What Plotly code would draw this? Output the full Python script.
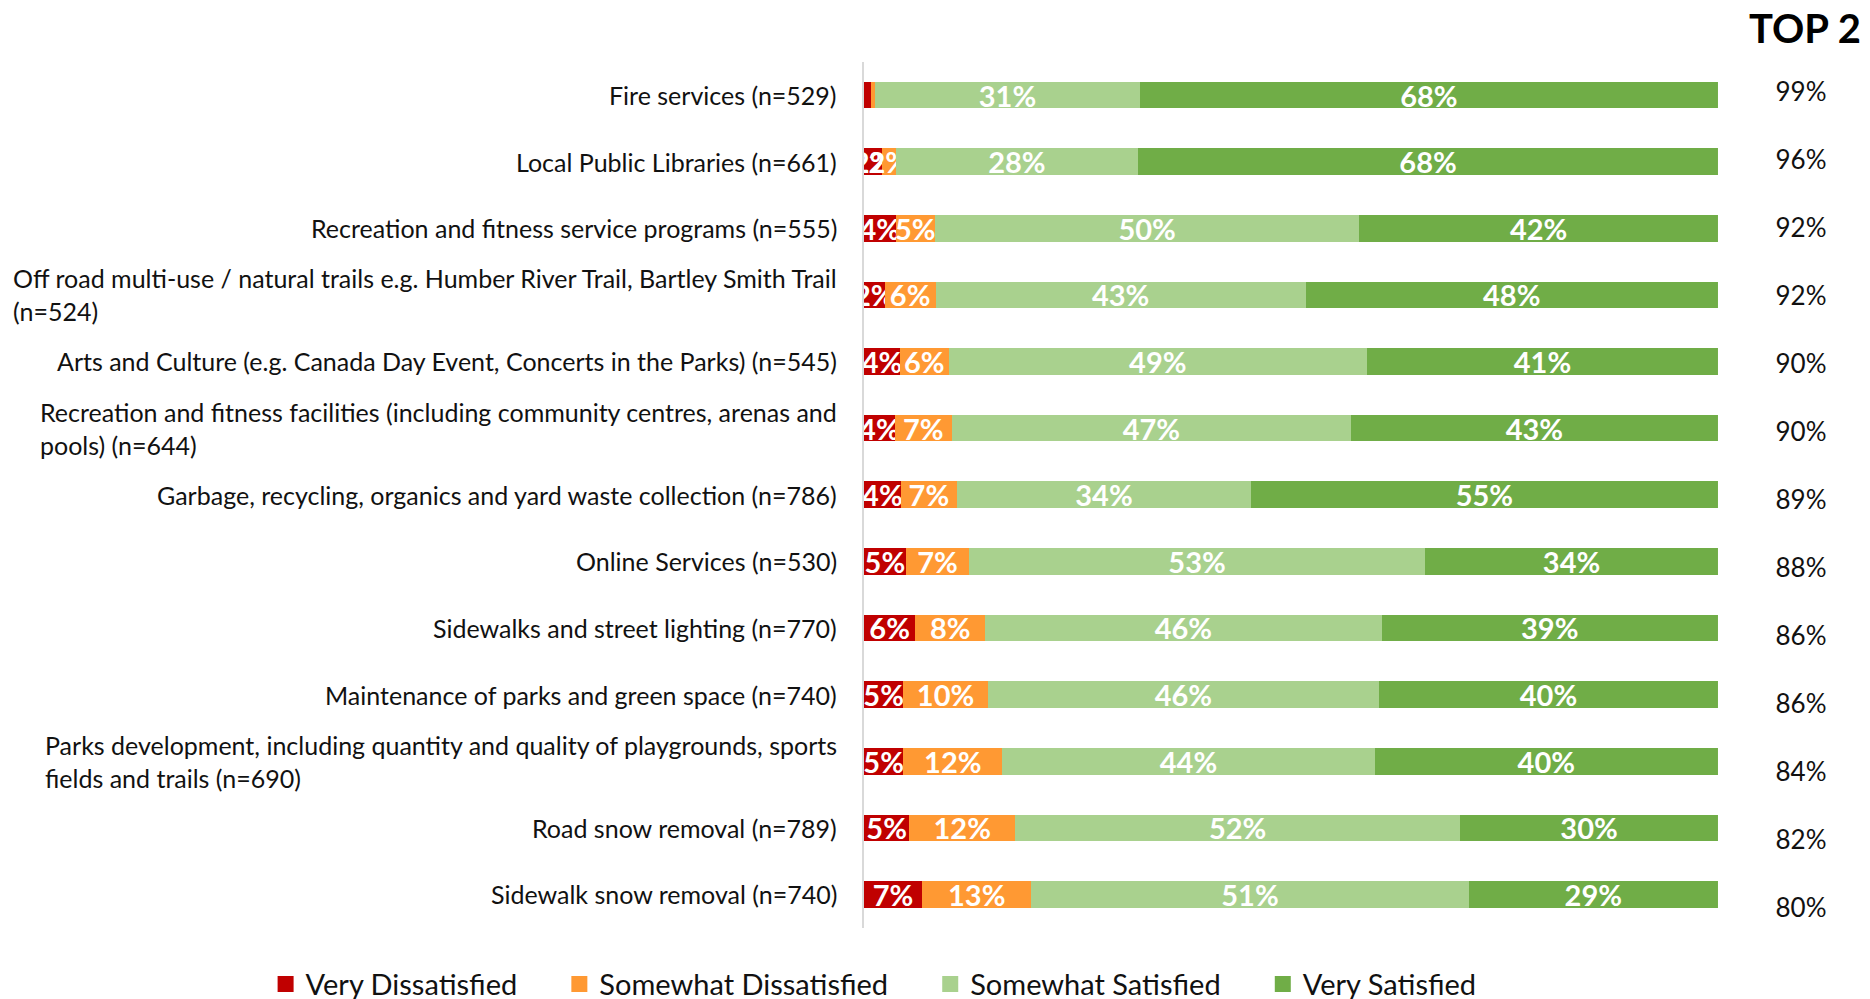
import plotly.graph_objects as go

services = [
    "Fire services (n=529)",
    "Local Public Libraries (n=661)",
    "Recreation and fitness service programs (n=555)",
    "Off road multi-use / natural trails e.g. Humber River Trail, Bartley Smith Trail<br>(n=524)",
    "Arts and Culture (e.g. Canada Day Event, Concerts in the Parks) (n=545)",
    "Recreation and fitness facilities (including community centres, arenas and<br>pools) (n=644)",
    "Garbage, recycling, organics and yard waste collection (n=786)",
    "Online Services (n=530)",
    "Sidewalks and street lighting (n=770)",
    "Maintenance of parks and green space (n=740)",
    "Parks development, including quantity and quality of playgrounds, sports<br>fields and trails (n=690)",
    "Road snow removal (n=789)",
    "Sidewalk snow removal (n=740)",
]

very_dissatisfied = [0.8, 2.1, 3.7, 2.4, 4.2, 3.6, 4.3, 4.9, 6.0, 4.6, 4.6, 5.3, 6.8]
somewhat_dissatisfied = [0.5, 1.6, 4.6, 6.0, 5.7, 6.7, 6.6, 7.4, 8.2, 9.9, 11.6, 12.4, 12.8]
somewhat_satisfied = [31.0, 28.4, 49.7, 43.3, 49.0, 46.7, 34.4, 53.4, 46.4, 45.8, 43.6, 52.1, 51.2]
very_satisfied = [67.7, 67.9, 42.0, 48.3, 41.1, 43.0, 54.7, 34.3, 39.4, 39.7, 40.2, 30.2, 29.2]

top2 = [99, 96, 92, 92, 90, 90, 89, 88, 86, 86, 84, 82, 80]

series = [
    ("Very Dissatisfied", very_dissatisfied, "#C00000"),
    ("Somewhat Dissatisfied", somewhat_dissatisfied, "#FF9933"),
    ("Somewhat Satisfied", somewhat_satisfied, "#A9D18E"),
    ("Very Satisfied", very_satisfied, "#70AD47"),
]

FONT = "Lato"
PAD = "\u00a0" * 5  # extra room between legend entries

fig = go.Figure()

for name, values, color in series:
    # tiny slices (under 1%) get no label, like in the original
    labels = [f"{v:.0f}%" if v >= 1 else "" for v in values]
    fig.add_trace(go.Bar(
        name=name,
        x=values,
        y=services,
        orientation="h",
        marker=dict(color=color, line=dict(width=0)),
        text=labels,
        textposition="inside",
        insidetextanchor="middle",
        textangle=0,
        constraintext="none",
        cliponaxis=True,
        textfont=dict(family=FONT, size=29, color="white", weight="bold"),
        hoverinfo="skip",
        showlegend=False,
    ))

# legend entries with bigger square swatches
for name, values, color in series:
    fig.add_trace(go.Scatter(
        x=[None], y=[None], mode="markers", name=name + PAD,
        marker=dict(symbol="square", size=16, color=color),
        hoverinfo="skip",
    ))

fig.add_trace(go.Scatter(
    x=[0] * len(top2),
    y=services,
    text=[f"{v}%" for v in top2],
    mode="text",
    textfont=dict(family=FONT, size=26, color="#111111"),
    xaxis="x2",
    yaxis="y2",
    showlegend=False,
    hoverinfo="skip",
))

for s in services:
    fig.add_annotation(
        x=0, xref="paper", xanchor="right", xshift=-25,
        y=s, yref="y",
        text=s, align="left", showarrow=False,
        font=dict(family=FONT, size=25, color="#111111"),
    )

fig.add_annotation(
    x=0.9448, xref="paper", y=1.025, yref="paper",
    xanchor="center", yanchor="middle",
    text="<b>TOP 2</b>", showarrow=False,
    font=dict(family=FONT, size=40, color="black"),
)

fig.update_layout(
    width=1870,
    height=999,
    barmode="stack",
    bargap=0.6,
    plot_bgcolor="white",
    paper_bgcolor="white",
    font=dict(family=FONT, color="#111111"),
    margin=dict(l=864, r=10, t=50, b=50, autoexpand=False),
    xaxis=dict(
        domain=[0, 0.8574], range=[0, 100],
        showgrid=False, zeroline=False, showticklabels=False, fixedrange=True,
    ),
    yaxis=dict(
        domain=[0.0236, 0.9870], autorange="reversed",
        showticklabels=False, showgrid=False, zeroline=False,
        showline=True, linecolor="#d9d9d9", linewidth=2, ticks="",
    ),
    xaxis2=dict(
        domain=[0.8996, 0.9819], range=[-1, 1], anchor="y2",
        visible=False,
    ),
    yaxis2=dict(
        domain=[0.0052, 0.9887], anchor="x2",
        type="category", categoryorder="array", categoryarray=services,
        range=[len(services) - 0.5, -0.5], autorange=False,
        visible=False,
    ),
    legend=dict(
        orientation="h",
        x=-0.6008, xanchor="left",
        y=-0.0390, yanchor="middle",
        font=dict(family=FONT, size=29, color="#111111"),
        traceorder="normal",
    ),
    showlegend=True,
)

fig.write_html(
    "out.html",
    config={"displayModeBar": False},
    post_script="document.body.style.margin = '0';",
)
